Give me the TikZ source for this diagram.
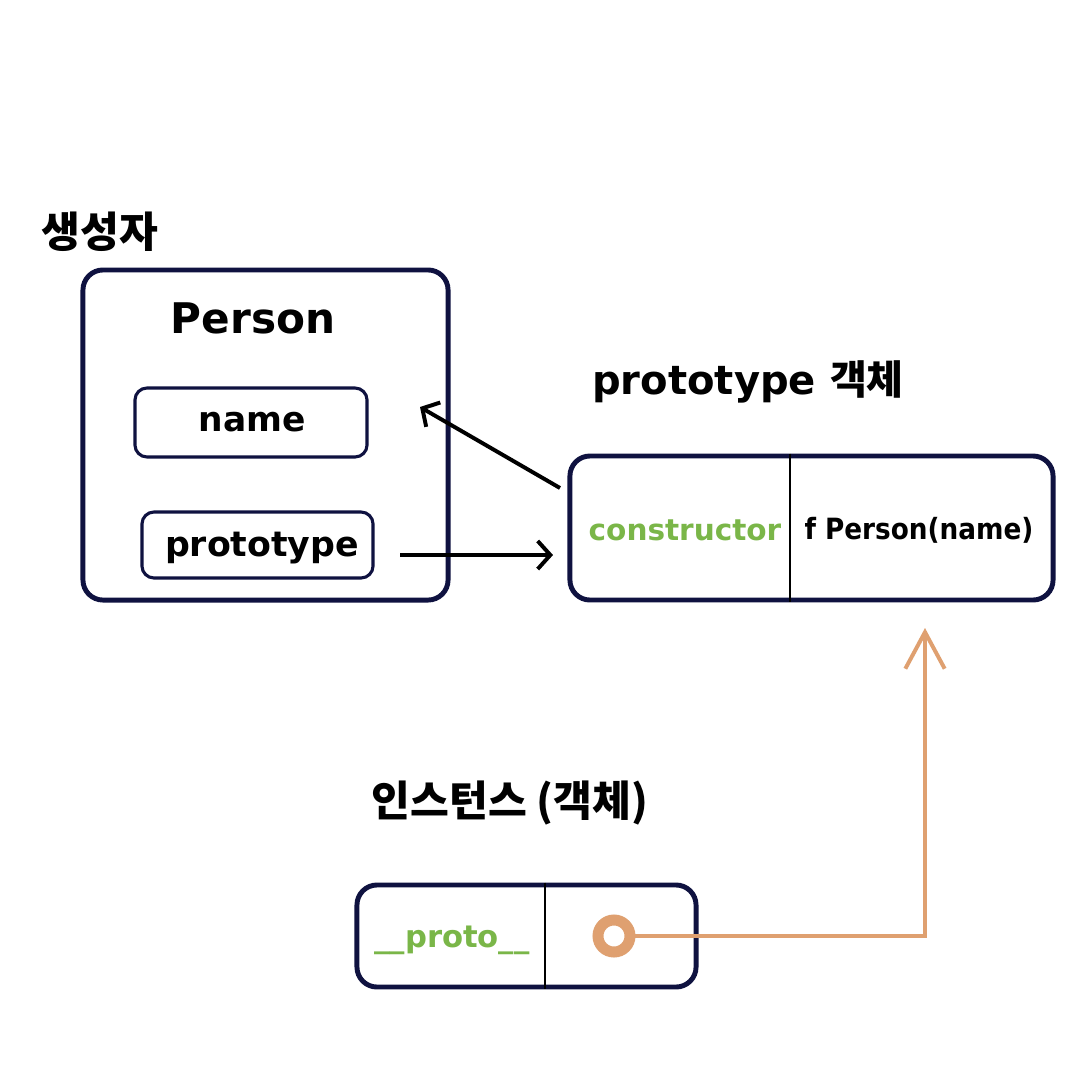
\documentclass[tikz,border=0pt]{standalone}
\usepackage{fontspec}
\setmainfont{DejaVu Sans}
\newfontfamily\condfont{DejaVu Sans Condensed}
\newfontfamily\cjk{Noto Sans CJK KR}
\usetikzlibrary{arrows.meta}
\definecolor{navy}{HTML}{0F1240}
\definecolor{leaf}{HTML}{7AB648}
\definecolor{tan}{HTML}{DFA070}
\tikzset{
  bigbox/.style={draw=navy, line width=3.5pt, rounded corners=0.5cm, inner sep=0pt},
  smallbox/.style={draw=navy, line width=2.2pt, rounded corners=0.3cm, inner sep=0pt},
  divider/.style={draw=black, line width=2pt},
  blackarrow/.style={draw=black, line width=2.8pt, -{Straight Barb[length=9pt, width=20pt, line width=2.8pt]}},
  tanarrow/.style={draw=tan, line width=2.8pt, -{Straight Barb[length=26pt, width=28pt, line width=2.8pt]}},
  heading/.style={font=\bfseries, inner sep=0pt, anchor=center},
}
\begin{document}
\begin{tikzpicture}[x=0.025cm, y=-0.025cm]
\useasboundingbox (0,0) rectangle (1080,1080);
\fill[white] (0,0) rectangle (1080,1080);

% headings
\node[heading] (hCtor) at (100,232) {\cjk\fontsize{30pt}{30pt}\selectfont\bfseries 생성자};
\node[heading] (hProto) at (748,382) {\fontsize{28.5pt}{28pt}\selectfont prototype {\cjk\bfseries 객체}};
\node[heading] (hInst) at (510,803) {\cjk\fontsize{30pt}{30pt}\selectfont\bfseries 인스턴스 (객체)};

% constructor box
\node[bigbox, minimum width=9.125cm, minimum height=8.25cm] (ctor) at (265.5,435) {};
\node[heading] (personLbl) at (253,318) {\fontsize{30pt}{30pt}\selectfont Person};
\node[smallbox, minimum width=5.8cm, minimum height=1.725cm] (nameBox) at (251,422.5) {};
\node[heading] (nameLbl) at (252,422) {\fontsize{24.5pt}{25pt}\selectfont name};
\node[smallbox, minimum width=5.775cm, minimum height=1.65cm] (protoBox) at (257.5,545) {};
\node[heading] (protoLbl) at (262,548) {\fontsize{24.7pt}{25pt}\selectfont prototype};

% prototype object
\node[bigbox, minimum width=12.075cm, minimum height=3.6cm] (pobj) at (811.5,528) {};
\coordinate (d1) at (790,0);
\draw[divider] (pobj.north -| d1) -- (pobj.south -| d1);
\node[heading, text=leaf] (ctorLbl) at (685,530) {\fontsize{21pt}{21pt}\selectfont constructor};
\node[heading] (fnLbl) at (919,530) {\condfont\bfseries\fontsize{20.8pt}{21pt}\selectfont f Person(name)};

% instance
\node[bigbox, minimum width=8.475cm, minimum height=2.55cm] (inst) at (526.5,936) {};
\coordinate (d2) at (545,0);
\draw[divider] (inst.north -| d2) -- (inst.south -| d2);
\node[heading, text=leaf] (dunderLbl) at (452,940) {\fontsize{21.8pt}{22pt}\selectfont \_\_proto\_\_};
\node[circle, draw=tan, line width=7.8pt, minimum size=0.8cm, inner sep=0pt] (dot) at (614,936) {};

% connectors
\coordinate (a1s) at (400,555);
\coordinate (a1e) at (553,555);
\draw[blackarrow] (a1s) -- (a1e);
\coordinate (a2s) at (560,488);
\coordinate (a2e) at (420,407);
\draw[blackarrow] (a2s) -- (a2e);
\coordinate (bend) at (925,935);
\coordinate (tip) at (925,628);
\draw[tanarrow] (dot.east) -- (dot.east -| bend) -- (tip);
\end{tikzpicture}
\end{document}
